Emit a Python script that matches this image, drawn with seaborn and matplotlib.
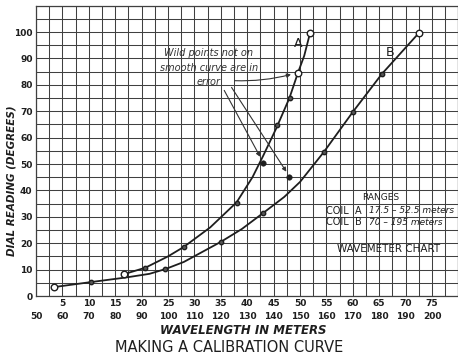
import matplotlib
matplotlib.use("Agg")
import matplotlib.pyplot as plt
import seaborn as sns
import pandas as pd

# x axis is drawn in coil B metres; coil A metres map as B = 50 + 2 * A
coil_b_ticks = [50, 60, 70, 80, 90, 100, 110, 120, 130, 140, 150, 160, 170, 180, 190, 200]
coil_a_ticks = [5, 10, 15, 20, 25, 30, 35, 40, 45, 50, 55, 60, 65, 70, 75]
dial_ticks = [0, 10, 20, 30, 40, 50, 60, 70, 80, 90, 100]

# curve A (coil A, metres on the upper scale)
curve_a_m = [16.7, 20.7, 25, 28, 33, 38, 41, 43, 45.5, 48, 49.6, 50.8, 51.9]
curve_a_deg = [8.3, 10.7, 15, 18.6, 26, 35.5, 45, 53, 63.5, 75, 84.5, 91, 99.6]
points_a_m = [20.7, 28, 38, 45.6, 48.1]
points_a_deg = [10.6, 18.6, 35.2, 64.8, 75]
ends_a_m = [16.7, 49.6, 51.9]
ends_a_deg = [8.3, 84.5, 99.6]

# curve B (coil B, metres on the lower scale)
curve_b_m = [57, 71, 84, 93, 99, 106, 120, 128, 136, 144, 150, 159, 170, 181, 195]
curve_b_deg = [3.4, 5.3, 7.0, 8.4, 10.2, 12.9, 20.5, 25.4, 31.4, 37.5, 43.2, 54.5, 69.7, 84.1, 99.6]
points_b_m = [71, 99, 120, 136, 159, 170, 181]
points_b_deg = [5.3, 10.2, 20.5, 31.4, 54.5, 69.7, 84.1]
ends_b_m = [57, 195]
ends_b_deg = [3.4, 99.6]

# wild readings (coil A metres)
wild_a_m = [43, 48]
wild_a_deg = [50.5, 45]

INK = "#1e1e1e"
GRID = "#404040"


def a_to_b(values):
    """Convert coil A metres to the shared (coil B) axis"""
    if isinstance(values, list):
        return [50 + 2 * v for v in values]
    return 50 + 2 * values


def b_to_a(values):
    return (values - 50) / 2


def draw_curve(ax, x, y, px, py, ex, ey):
    line = pd.DataFrame({"x": x, "y": y})
    sns.lineplot(data=line, x="x", y="y", ax=ax, color=INK, linewidth=1.3,
                 sort=False, estimator=None)
    pts = pd.DataFrame({"x": px, "y": py})
    sns.scatterplot(data=pts, x="x", y="y", ax=ax, s=10, facecolor="#555555",
                    edgecolor=INK, linewidth=1.0, zorder=5)
    ends = pd.DataFrame({"x": ex, "y": ey})
    sns.scatterplot(data=ends, x="x", y="y", ax=ax, s=22, facecolor="white",
                    edgecolor=INK, linewidth=1.0, zorder=5)


def main():
    sns.set_style("white")
    plt.rcParams["font.family"] = ["DejaVu Sans"]

    fig = plt.figure(figsize=(4.58, 3.56), dpi=100)
    ax = fig.add_axes([36 / 458, 60 / 356, 422.4 / 458, 290.4 / 356])

    # graph paper grid, 5 units per square
    ax.set_xlim(50, 210)
    ax.set_ylim(0, 110)
    ax.set_xticks(range(50, 211, 5), minor=True)
    ax.set_yticks(range(0, 111, 5), minor=True)
    ax.grid(which="both", color=GRID, linewidth=0.75)
    ax.set_axisbelow(True)
    for sp in ax.spines.values():
        sp.set_color(GRID)
        sp.set_linewidth(0.9)

    draw_curve(ax, a_to_b(curve_a_m), curve_a_deg, a_to_b(points_a_m), points_a_deg,
               a_to_b(ends_a_m), ends_a_deg)
    draw_curve(ax, curve_b_m, curve_b_deg, points_b_m, points_b_deg, ends_b_m, ends_b_deg)

    wild = pd.DataFrame({"x": a_to_b(wild_a_m), "y": wild_a_deg})
    sns.scatterplot(data=wild, x="x", y="y", ax=ax, s=16, color=INK, edgecolor=INK, zorder=6)

    # ticks: coil B scale on the lower row, coil A scale above it
    ax.set_xticks(coil_b_ticks)
    ax.set_xticklabels([str(v) for v in coil_b_ticks], fontsize=6.5, fontweight="bold", color=INK)
    ax.tick_params(axis="x", which="both", length=0, pad=11.3)
    sec = ax.secondary_xaxis("bottom", functions=(b_to_a, a_to_b))
    sec.set_xticks(coil_a_ticks)
    sec.set_xticklabels([str(v) for v in coil_a_ticks], fontsize=6.5, fontweight="bold", color=INK)
    sec.tick_params(axis="x", length=0, pad=2.5)
    sec.spines["bottom"].set_visible(False)

    ax.set_yticks(dial_ticks)
    ax.set_yticklabels([str(v) for v in dial_ticks], fontsize=6.5, fontweight="bold", color=INK)
    ax.tick_params(axis="y", which="both", length=0, pad=2.5)
    ax.set_xlabel("")
    ax.set_ylabel("")

    # curve letters
    ax.text(149.2, 95.8, "A", fontsize=9, color=INK, ha="center", va="center")
    ax.text(184.1, 92.4, "B", fontsize=9, color=INK, ha="center", va="center")

    # note about wild points
    ax.text(115.5, 86.5, "Wild points not on\nsmooth curve are in\nerror", fontsize=7,
            style="italic", color="#333333", ha="center", va="center", linespacing=1.55)
    arrow = dict(arrowstyle="-|>", color="#333333", lw=0.8, mutation_scale=6)
    ax.annotate("", xy=(147.6, 84.2), xytext=(124.2, 81.6),
                arrowprops=dict(arrow, connectionstyle="arc3,rad=0.08"))
    ax.annotate("", xy=(135.4, 51.8), xytext=(120.8, 78.8), arrowprops=arrow)
    ax.annotate("", xy=(145.4, 46.2), xytext=(123.5, 79.9), arrowprops=arrow)

    # ranges box
    ax.text(180.7, 37.5, "RANGES", fontsize=6.5, color=INK, ha="center", va="center")
    ax.text(160, 32.2, "COIL  A", fontsize=7, color=INK, ha="left", va="center")
    ax.text(176, 32.2, "17.5 – 52.5 meters", fontsize=6.5, style="italic", color=INK,
            ha="left", va="center")
    ax.text(160, 28.0, "COIL  B", fontsize=7, color=INK, ha="left", va="center")
    ax.text(176, 28.0, "70 – 195 meters", fontsize=6.5, style="italic", color=INK,
            ha="left", va="center")
    ax.text(183.5, 17.8, "WAVEMETER CHART", fontsize=7.5, color=INK, ha="center", va="center")

    # axis titles and caption
    fig.text(243 / 458, 1 - 330 / 356, "WAVELENGTH IN METERS", fontsize=8.5, style="italic",
             fontweight="bold", color=INK, ha="center", va="center")
    fig.text(12 / 458, 1 - 181 / 356, "DIAL READING (DEGREES)", fontsize=7.5, style="italic",
             fontweight="bold", color=INK, rotation=90, ha="center", va="center")
    fig.text(0.5, 1 - 347 / 356, "MAKING A CALIBRATION CURVE", fontsize=10.5, color=INK,
             ha="center", va="center")

    fig.savefig("out.png", dpi=100, facecolor="white")
    plt.close(fig)


if __name__ == "__main__":
    main()
